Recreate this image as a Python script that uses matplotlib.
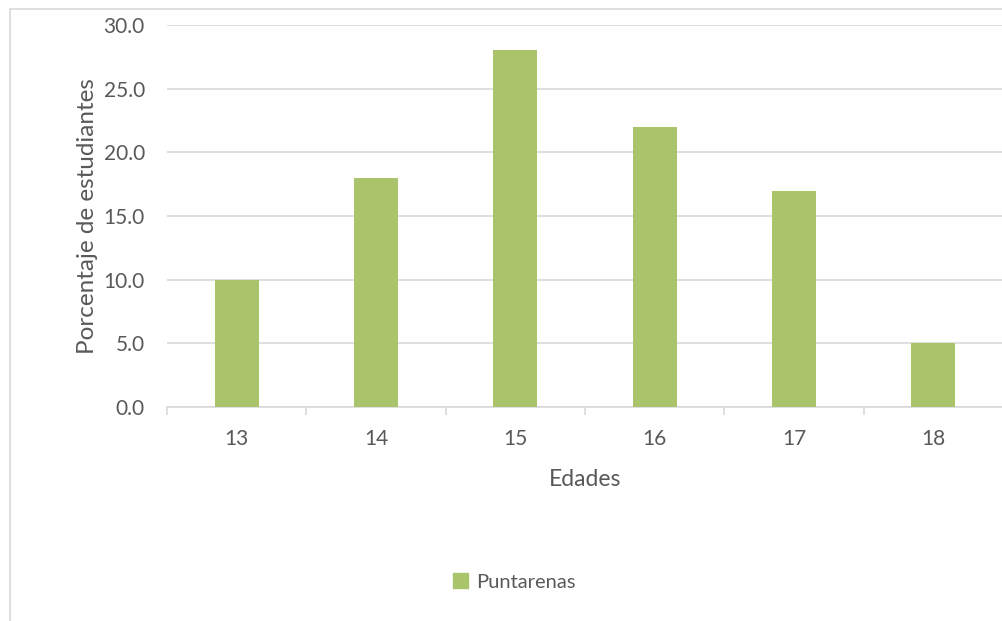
import matplotlib
matplotlib.use("Agg")
import matplotlib.pyplot as plt
from matplotlib.patches import Rectangle, Patch
import numpy as np

edades = ["13", "14", "15", "16", "17", "18"]
porcentajes = [10.0, 18.0, 28.0, 22.0, 17.0, 5.0]
serie = "Puntarenas"

verde = "#A9C46B"
gris_texto = "#595959"
gris_linea = "#D9D9D9"

plt.rcParams["font.family"] = ["Lato", "DejaVu Sans"]

fig = plt.figure(figsize=(10.02, 6.21), dpi=100)
fig.patches.append(Rectangle((10 / 1002, -0.01), 1.0, 1 - 9 / 621 + 0.01,
                             transform=fig.transFigure, fill=False,
                             edgecolor=gris_linea, linewidth=1.2))

ax = fig.add_axes([167 / 1002, 1 - 407 / 621, 836 / 1002, 382 / 621])
x = np.arange(len(edades))
ax.bar(x, porcentajes, width=0.315, color=verde, zorder=3)

ax.set_xlim(-0.5, len(edades) - 0.5)
ax.set_ylim(0, 30)
ax.set_yticks(np.arange(0, 30.1, 5))
ax.set_yticklabels([f"{v:.1f}" for v in np.arange(0, 30.1, 5)])
ax.set_xticks(x)
ax.set_xticklabels(edades)
ax.set_xticks(np.arange(-0.5, len(edades), 1), minor=True)

ax.grid(axis="y", color=gris_linea, linewidth=1.2, zorder=0)
for s in ["top", "right", "left"]:
    ax.spines[s].set_visible(False)
ax.spines["bottom"].set_color(gris_linea)
ax.spines["bottom"].set_linewidth(1.2)
ax.tick_params(axis="y", length=0, pad=16, labelsize=15, labelcolor=gris_texto)
ax.tick_params(axis="x", which="major", length=0, pad=16, labelsize=15, labelcolor=gris_texto)
ax.tick_params(axis="x", which="minor", length=6, width=1.2, color=gris_linea)

ax.set_ylabel("Porcentaje de estudiantes", fontsize=17.5, color=gris_texto, labelpad=4)
ax.set_xlabel("Edades", fontsize=16.5, color=gris_texto, labelpad=14)

fig.legend(handles=[Patch(color=verde, label=serie)], loc="center",
           bbox_to_anchor=(514 / 1002, 1 - 582 / 621), frameon=False,
           fontsize=14.5, labelcolor=gris_texto, handlelength=0.75,
           handleheight=0.75, handletextpad=0.4)

fig.savefig("out.png", dpi=100)
